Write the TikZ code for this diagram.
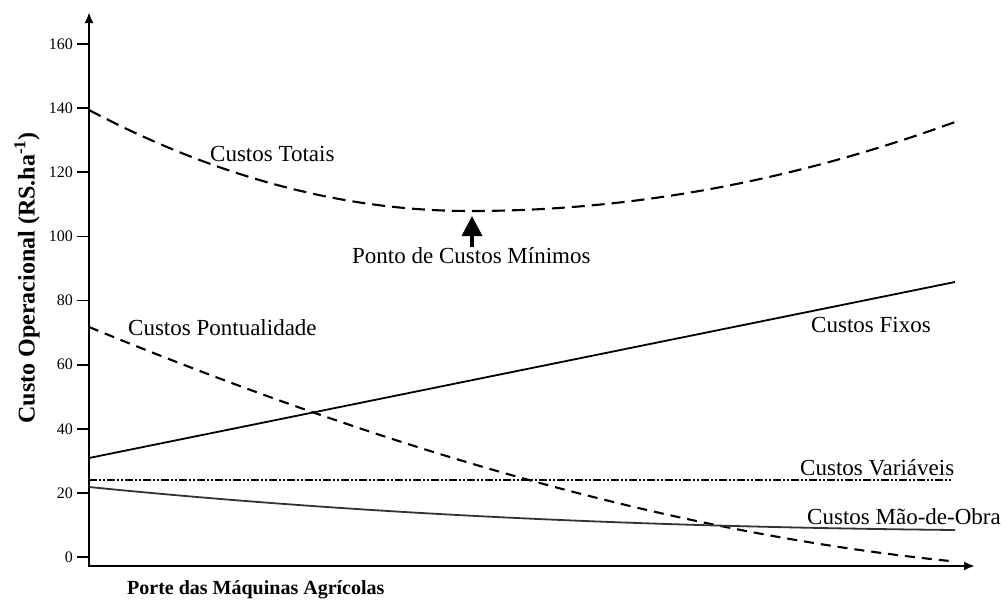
\documentclass[tikz,border=0pt]{standalone}
\usepackage{fontspec}
\setmainfont{Liberation Serif}
\usetikzlibrary{arrows.meta}
\begin{document}
\begin{tikzpicture}[x=1pt,y=-1pt,
  axis/.style={line width=2.2pt, {Latex[length=11pt,width=9pt]}-{Latex[length=11pt,width=9pt]}},
  tickmark/.style={line width=1.8pt},
  ticklabel/.style={anchor=east,inner sep=0pt,font=\fontsize{16}{18}\selectfont},
  lbl/.style={anchor=base west,inner sep=0pt,font=\fontsize{23}{26}\selectfont},
  totais/.style={line width=2.1pt,dash pattern=on 13pt off 7pt},
  pont/.style={line width=2.1pt,dash pattern=on 10pt off 7pt},
  fixos/.style={line width=1.8pt},
  mao/.style={line width=1.8pt,black!80},
  var/.style={line width=2.4pt,dash pattern=on 8pt off 2pt on 2pt off 2pt on 2pt off 2pt},
  minarrow/.style={line width=3.5pt,-{Triangle[length=20pt,width=20pt]}}
]
\useasboundingbox (0,0) rectangle (1008,600);
\fill[white] (0,0) rectangle (1008,600);
% axes
\coordinate (O) at (89,566);
\coordinate (ytop) at (89,12);
\coordinate (xend) at (975,566);
\draw[axis] (ytop) -- (O) -- (xend);
% ticks
\foreach \v in {0,20,...,160}{
  \pgfmathsetmacro\yy{557-3.206*\v}
  \coordinate (tk\v) at (89,\yy);
  \draw[tickmark] (77,\yy) -- (tk\v);
  \node[ticklabel] (tl\v) at (73,\yy) {\v};
}
% axis labels
\node[rotate=90,inner sep=0pt,font=\bfseries\fontsize{24}{26}\selectfont] (ylab) at (27,278) {Custo Operacional (RS.ha\textsuperscript{-1})};
\node[anchor=base west,inner sep=0pt,font=\bfseries\fontsize{20}{22}\selectfont] (xlab) at (127,594) {Porte das Máquinas Agrícolas};
% curves
\coordinate (tot0) at (89,110);
\coordinate (min) at (470,211);
\coordinate (tot1) at (955,122);
\draw[totais] (tot0) .. controls (216,177) and (343,211) .. (min) .. controls (632,211) and (793,181) .. (tot1);
\coordinate (fix0) at (89,458);
\coordinate (fix1) at (955,282);
\draw[fixos] (fix0) -- (fix1);
\coordinate (pon0) at (89,327);
\coordinate (pon1) at (950,561);
\draw[pont] (pon0) .. controls (376,445) and (663,532) .. (pon1);
\coordinate (var0) at (89,480);
\coordinate (var1) at (953,480);
\draw[var] (var0) -- (var1);
\coordinate (mao0) at (89,487);
\coordinate (mao1) at (955,530);
\draw[mao] (mao0) .. controls (379,516) and (665,527) .. (mao1);
% labels
\node[lbl] (ltot) at (210,161) {Custos Totais};
\node[lbl] (ponto) at (352,263) {Ponto de Custos Mínimos};
\coordinate (mintip) at (472,216);
\draw[minarrow] (ponto.north -| mintip) -- (mintip);
\node[lbl] (lpon) at (128,335) {Custos Pontualidade};
\node[lbl] (lfix) at (811,332) {Custos Fixos};
\node[lbl] (lvar) at (800,475) {Custos Variáveis};
\node[lbl] (lmao) at (807,524) {Custos Mão-de-Obra};
\end{tikzpicture}
\end{document}
